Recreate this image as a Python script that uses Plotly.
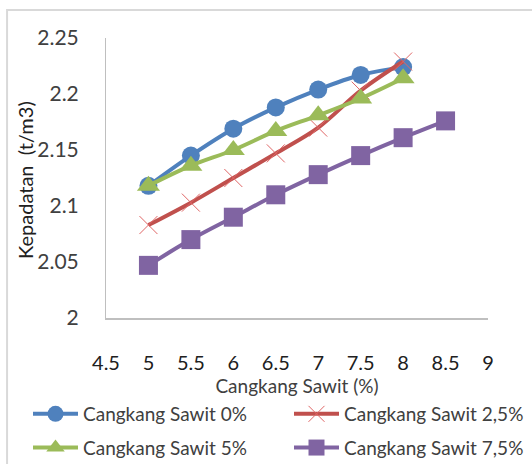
import plotly.graph_objects as go

x_main = [5, 5.5, 6, 6.5, 7, 7.5, 8]
x_75 = [5, 5.5, 6, 6.5, 7, 7.5, 8, 8.5]
cs_0 = [2.118, 2.145, 2.169, 2.188, 2.204, 2.217, 2.224]
cs_25 = [2.083, 2.103, 2.125, 2.147, 2.170, 2.203, 2.229]
cs_5 = [2.118, 2.136, 2.150, 2.167, 2.181, 2.196, 2.214]
cs_75 = [2.047, 2.070, 2.090, 2.110, 2.128, 2.145, 2.161, 2.176]

x_ticks = [4.5, 5, 5.5, 6, 6.5, 7, 7.5, 8, 8.5, 9]
y_ticks = [2, 2.05, 2.1, 2.15, 2.2, 2.25]

FONT = "Lato"
W, H = 532, 464
fig = go.Figure()
fig.add_trace(go.Scatter(x=x_main, y=cs_0, name="Cangkang Sawit 0%", mode="lines+markers",
                         legend="legend", legendgroup="a",
                         line=dict(color="#4F81BD", width=4, shape="spline"),
                         marker=dict(symbol="circle", size=18, color="#4F81BD")))
fig.add_trace(go.Scatter(x=x_main, y=cs_25, name="Cangkang Sawit 2,5%", mode="lines+markers",
                         legend="legend2", legendgroup="b",
                         line=dict(color="#C0504D", width=4, shape="spline"),
                         marker=dict(symbol="x-thin-open", size=18, color="#E06666",
                                     line=dict(color="#E06666", width=1))))
fig.add_trace(go.Scatter(x=x_main, y=cs_5, name="Cangkang Sawit 5%", mode="lines+markers",
                         legend="legend", legendgroup="c",
                         line=dict(color="#9BBB59", width=4, shape="spline"),
                         marker=dict(symbol="triangle-up", size=20, color="#9BBB59")))
fig.add_trace(go.Scatter(x=x_75, y=cs_75, name="Cangkang Sawit 7,5%", mode="lines+markers",
                         legend="legend2", legendgroup="d",
                         line=dict(color="#8064A2", width=4, shape="spline"),
                         marker=dict(symbol="square", size=19, color="#8064A2")))

leg_common = dict(orientation="v", yanchor="top", xanchor="left", xref="container", yref="container",
                  font=dict(size=19, color="#404040"), itemwidth=45, tracegroupgap=6,
                  bgcolor="rgba(0,0,0,0)")
fig.update_layout(
    width=W, height=H,
    margin=dict(l=106, r=44, t=38, b=146, autoexpand=False),
    plot_bgcolor="white", paper_bgcolor="white",
    font=dict(family=FONT, color="#404040"),
    xaxis=dict(range=[4.5, 9], tickvals=x_ticks, ticktext=[f"{v:g}" for v in x_ticks],
               showgrid=False, zeroline=False, showline=True, linecolor="#BFBFBF", linewidth=2,
               ticks="", tickfont=dict(size=20, color="#202020"), ticklabelstandoff=26,
               title=dict(text="Cangkang Sawit (%)", font=dict(size=19, color="#404040"), standoff=0)),
    yaxis=dict(range=[2, 2.25], tickvals=y_ticks, ticktext=[f"{v:g}" for v in y_ticks],
               showgrid=False, zeroline=False, showline=True, linecolor="#BFBFBF", linewidth=1,
               ticks="", tickfont=dict(size=21, color="#404040"), ticklabelstandoff=22),
    legend=dict(x=28 / W, y=1 - 395 / H, **leg_common),
    legend2=dict(x=289 / W, y=1 - 395 / H, **leg_common),
    showlegend=True,
    annotations=[dict(text="Kepadatan  (t/m3)", textangle=-90, xref="paper", yref="paper",
                      x=(25 - 106) / 382, y=(318 - 180) / 280, xanchor="center", yanchor="middle",
                      showarrow=False, font=dict(size=20, color="#202020", family=FONT))],
    shapes=[dict(type="rect", xref="paper", yref="paper", x0=-0.259, x1=2, y0=-2, y1=1.1,
                 line=dict(color="#D9D9D9", width=2), fillcolor="rgba(0,0,0,0)", layer="below")],
)
fig.write_html("out.html")
